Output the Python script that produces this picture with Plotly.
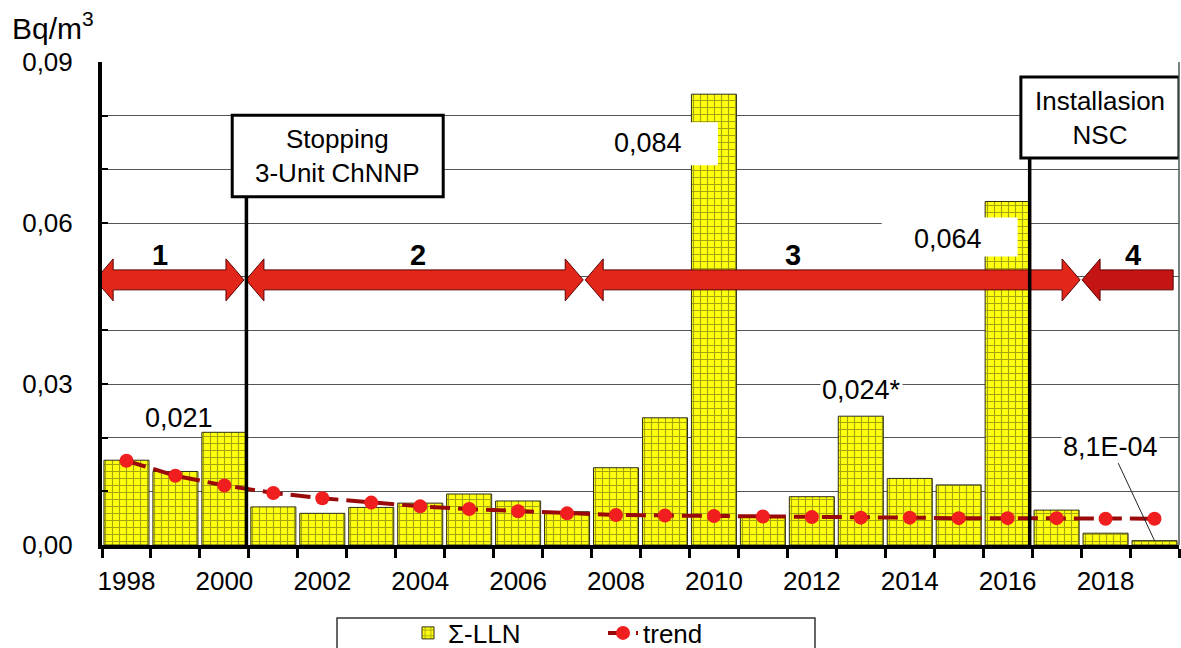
import plotly.graph_objects as go

# ---- data -------------------------------------------------------------
years = list(range(1998, 2020))
sum_lln = [0.0158, 0.0137, 0.021, 0.0071, 0.0059, 0.0070, 0.0078, 0.0095,
           0.0082, 0.0062, 0.0144, 0.0237, 0.084, 0.0055, 0.0090, 0.024,
           0.0124, 0.0112, 0.064, 0.0065, 0.0022, 0.00081]
trend = [0.0157, 0.0129, 0.0111, 0.0097, 0.0087, 0.0079, 0.0072, 0.0067,
         0.0063, 0.0059, 0.0056, 0.0055, 0.0054, 0.0053, 0.0052, 0.0051,
         0.0051, 0.0050, 0.0050, 0.0050, 0.0049, 0.0049]

x_tick_years = years[::2]
y_major = [0.0, 0.03, 0.06, 0.09]
y_major_text = ["0,00", "0,03", "0,06", "0,09"]
y_minor = [i / 100 for i in range(10)]

# labelled bar values (year -> text)
value_labels = {2000: "0,021", 2010: "0,084", 2013: "0,024*", 2016: "0,064", 2019: "8,1E-04"}

# observation periods drawn as arrows
period_names = ["1", "2", "3", "4"]
period_start = [1997.36, 2000.44, 2007.37, 2017.52]
period_end = [2000.40, 2007.33, 2017.48, 2019.38]
period_heads = [(True, True), (True, True), (True, True), (True, False)]
period_label_x = [1998.68, 2003.96, 2011.62, 2018.56]
period_colors = ["#E3261A", "#E3261A", "#E3261A", "#C41414"]

# events marked with a vertical line and a caption box
event_x = [2000.45, 2016.45]
event_text = ["Stopping<br>3-Unit ChNNP", "Installasion<br>NSC"]
event_box_x = [(2000.16, 2004.47), (2016.27, 2019.5)]
event_box_y = [(0.0649, 0.0801), (0.0721, 0.0872)]

# ---- geometry helpers -------------------------------------------------
W, H = 1181, 648
ML, MR, MT, MB = 102, 2, 62, 103
X_RANGE = [1997.5, 2019.5]
Y_RANGE = [0, 0.09]
PLOT_W = W - ML - MR
PLOT_H = H - MT - MB
PX_X = PLOT_W / (X_RANGE[1] - X_RANGE[0])   # px per year
PX_Y = PLOT_H / (Y_RANGE[1] - Y_RANGE[0])   # px per unit


def arrow_path(x0, x1, yc, left_head, right_head):
    hl = 18 / PX_X
    sh = 10 / PX_Y
    hh = 21 / PX_Y
    pts = []
    if left_head:
        pts += [(x0, yc), (x0 + hl, yc + hh), (x0 + hl, yc + sh)]
    else:
        pts += [(x0, yc + sh)]
    if right_head:
        pts += [(x1 - hl, yc + sh), (x1 - hl, yc + hh), (x1, yc),
                (x1 - hl, yc - hh), (x1 - hl, yc - sh)]
    else:
        pts += [(x1, yc + sh), (x1, yc - sh)]
    if left_head:
        pts += [(x0 + hl, yc - sh), (x0 + hl, yc - hh)]
    else:
        pts += [(x0, yc - sh)]
    return "M" + " L".join(f"{x:.4f},{y:.5f}" for x, y in pts) + " Z"


FONT = "Arial, Liberation Sans, sans-serif"

# ---- traces -----------------------------------------------------------
fig = go.Figure()
fig.add_bar(
    x=years, y=sum_lln, name="Σ-LLN",
    marker=dict(
        color="#FFFF10",
        line=dict(color="#2e2e18", width=1),
        pattern=dict(shape="+", fgcolor="#4a4a10", bgcolor="#FFFF10",
                     size=7, solidity=0.3),
    ),
)
fig.add_scatter(
    x=years, y=trend, name="trend", mode="lines+markers",
    line=dict(color="#9B0A0A", width=4, dash="20px,8px"),
    marker=dict(color="#F01E1E", size=14),
)

# ---- shapes -----------------------------------------------------------
shapes = []
arrow_y = 0.0494
for s, e, (lh, rh), col in zip(period_start, period_end, period_heads, period_colors):
    shapes.append(dict(type="path", xref="x", yref="y", layer="above",
                       path=arrow_path(s, e, arrow_y, lh, rh),
                       fillcolor=col, line=dict(color="#5a0000", width=1)))

for ex, (by0, by1) in zip(event_x, event_box_y):
    shapes.append(dict(type="line", xref="x", yref="y", layer="above",
                       x0=ex, x1=ex, y0=0, y1=by0,
                       line=dict(color="black", width=3.5)))

# white backing cut into the tall bars behind their value labels
for yr, dx_right, top_off, bot_off in [(2010, 4, 28, 71), (2016, 10, 16, 55)]:
    v = sum_lln[years.index(yr)]
    x1 = yr + dx_right / PX_X
    shapes.append(dict(type="rect", xref="x", yref="y", layer="above",
                       x0=x1 - 136 / PX_X, x1=x1,
                       y0=v - bot_off / PX_Y, y1=v - top_off / PX_Y,
                       fillcolor="white", line=dict(width=0)))

for (bx0, bx1), (by0, by1) in zip(event_box_x, event_box_y):
    shapes.append(dict(type="rect", xref="x", yref="y", layer="above",
                       x0=bx0, x1=bx1, y0=by0, y1=by1,
                       fillcolor="white", line=dict(color="black", width=3)))

# right frame line
shapes.append(dict(type="line", xref="paper", yref="paper", x0=1, x1=1, y0=0, y1=1,
                   line=dict(color="#555", width=1.5)))

# legend frame
shapes.append(dict(type="rect", xref="paper", yref="paper", layer="above",
                   x0=(337 - ML) / PLOT_W, x1=(815 - ML) / PLOT_W,
                   y0=(H - MB - 652) / PLOT_H, y1=(H - MB - 618) / PLOT_H,
                   fillcolor="rgba(0,0,0,0)", line=dict(color="#333", width=1.5)))

# ---- annotations ------------------------------------------------------
ann = []
ann.append(dict(xref="paper", yref="paper", x=(10 - ML) / PLOT_W,
                y=(H - MB - 26) / PLOT_H, xanchor="left", yanchor="middle",
                text="Bq/m<sup>3</sup>", showarrow=False,
                font=dict(size=30, color="black", family=FONT)))

for name, lx, col in zip(period_names, period_label_x, period_colors):
    ann.append(dict(x=lx, y=0.054, text=f"<b>{name}</b>", showarrow=False,
                    font=dict(size=29, color="black", family=FONT)))

for (bx0, bx1), (by0, by1), txt in zip(event_box_x, event_box_y, event_text):
    ann.append(dict(x=(bx0 + bx1) / 2, y=(by0 + by1) / 2, text=txt, showarrow=False,
                    font=dict(size=26, color="black", family=FONT)))

vfont = dict(size=27, color="black", family=FONT)
v = sum_lln[years.index(2000)]
ann.append(dict(x=2000, y=v, text=value_labels[2000], showarrow=False,
                xanchor="right", yanchor="bottom", xshift=-9, yshift=-3, font=vfont))
v = sum_lln[years.index(2010)]
ann.append(dict(x=2010, y=v, text=value_labels[2010], showarrow=False,
                yanchor="middle", xshift=-66, yshift=-49, font=vfont))
v = sum_lln[years.index(2016)]
ann.append(dict(x=2016, y=v, text=value_labels[2016], showarrow=False,
                yanchor="middle", xshift=-60, yshift=-37, font=vfont))
v = sum_lln[years.index(2013)]
ann.append(dict(x=2013, y=v, text=value_labels[2013], showarrow=False,
                yanchor="middle", xshift=1, yshift=26, bgcolor="white", font=vfont))
v = sum_lln[years.index(2019)]
ann.append(dict(x=2019, y=v, text=value_labels[2019], showarrow=True,
                arrowhead=0, arrowwidth=1, arrowcolor="#222", standoff=0,
                ax=-44, ay=-94, bgcolor="white", font=vfont))

# ---- layout -----------------------------------------------------------
fig.update_layout(
    width=W, height=H,
    margin=dict(l=ML, r=MR, t=MT, b=MB, autoexpand=False),
    paper_bgcolor="white", plot_bgcolor="white",
    font=dict(family=FONT, color="black"),
    bargap=0.08,
    showlegend=True,
    legend=dict(orientation="h", xanchor="left", yanchor="middle",
                x=(408 - ML) / PLOT_W, y=(H - MB - 633) / PLOT_H,
                bgcolor="rgba(0,0,0,0)", borderwidth=0,
                font=dict(size=26, color="black", family=FONT),
                entrywidth=150),
    xaxis=dict(range=X_RANGE, tickmode="array", tickvals=x_tick_years,
               ticktext=[str(y) for y in x_tick_years], ticks="",
               showline=True, linewidth=4, linecolor="black",
               showgrid=False, zeroline=False, automargin=False,
               tickfont=dict(size=26, color="black", family=FONT),
               ticklabelstandoff=10,
               minor=dict(tickvals=[y - 0.5 for y in years] + [years[-1] + 0.5],
                          ticks="outside", ticklen=9, tickwidth=3,
                          tickcolor="black", showgrid=False)),
    yaxis=dict(range=Y_RANGE, tickmode="array", tickvals=y_major,
               ticktext=y_major_text, ticks="inside", ticklen=6, tickwidth=2,
               tickcolor="black", showline=True, linewidth=4, linecolor="black",
               showgrid=True, gridcolor="#555", gridwidth=1, zeroline=False,
               automargin=False,
               tickfont=dict(size=26, color="black", family=FONT),
               ticklabelstandoff=20,
               minor=dict(tickvals=y_minor, ticks="inside", ticklen=6, tickwidth=2,
                          tickcolor="black", showgrid=True, gridcolor="#555",
                          gridwidth=1)),
    shapes=shapes,
    annotations=ann,
)

fig.write_html("out.html")
